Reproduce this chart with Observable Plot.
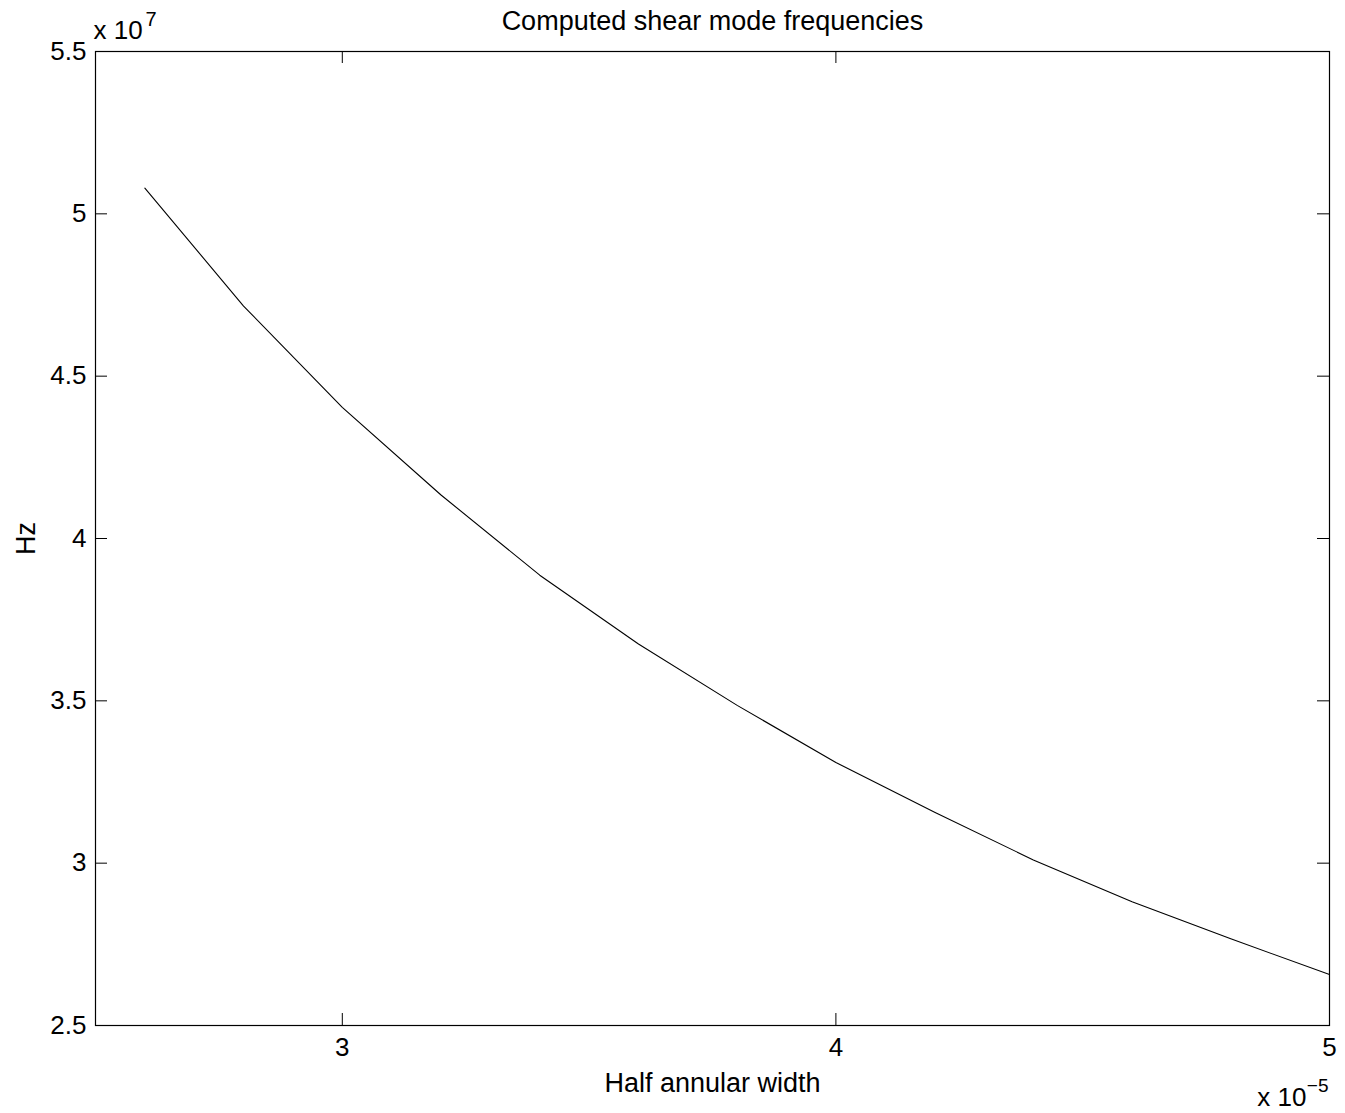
<!DOCTYPE html>
<html>
<head>
<meta charset="utf-8">
<script src="https://cdn.jsdelivr.net/npm/d3@7"></script>
<script src="https://cdn.jsdelivr.net/npm/@observablehq/plot@0.6"></script>
<style>
  html, body { margin: 0; padding: 0; background: #fff; }
  #chart svg { display: block; }
</style>
</head>
<body>
<div id="chart"></div>
<script>
// Half annular width (x 10^-5)
const halfWidth = [2.6, 2.8, 3.0, 3.2, 3.4, 3.6, 3.8, 4.0, 4.2, 4.4, 4.6, 4.8, 5.0];
// Frequency (Hz, x 10^7)
const freqHz = [5.079, 4.716, 4.404, 4.134, 3.887, 3.675, 3.486, 3.310, 3.157, 3.010, 2.881, 2.767, 2.657];

const xTicks = [3, 4, 5];
const yTicks = [2.5, 3, 3.5, 4, 4.5, 5, 5.5];
const titleText = "Computed shear mode frequencies";
const xLabel = "Half annular width";
const yLabel = "Hz";

const W = 1345, H = 1113;
const mL = 95, mR = 16, mT = 51, mB = 88;
const innerW = W - mL - mR, innerH = H - mT - mB;
const tickLen = 12;
const fs = 26;
const fsLabel = 27;

const data = halfWidth.map((x, i) => ({x, y: freqHz[i]}));

const chart = Plot.plot({
  width: W,
  height: H,
  marginLeft: mL, marginRight: mR, marginTop: mT, marginBottom: mB,
  style: {fontFamily: "'Liberation Sans', Arial, Helvetica, sans-serif", fontSize: fs + "px", color: "#000", background: "#fff"},
  x: {domain: [2.5, 5], axis: null},
  y: {domain: [2.5, 5.5], axis: null},
  marks: [
    Plot.frame({stroke: "#000", strokeWidth: 1.2}),
    // inward ticks on all four sides
    Plot.tickX(xTicks, {x: d => d, stroke: "#000", strokeWidth: 1, insetTop: innerH - tickLen}),
    Plot.tickX(xTicks, {x: d => d, stroke: "#000", strokeWidth: 1, insetBottom: innerH - tickLen}),
    Plot.tickY(yTicks, {y: d => d, stroke: "#000", strokeWidth: 1, insetRight: innerW - tickLen}),
    Plot.tickY(yTicks, {y: d => d, stroke: "#000", strokeWidth: 1, insetLeft: innerW - tickLen}),
    // tick labels
    Plot.axisX(xTicks, {anchor: "bottom", tickSize: 0, tickPadding: 12, fontSize: fs, tickFormat: d => String(d), label: null}),
    Plot.axisY(yTicks, {anchor: "left", tickSize: 0, tickPadding: 9, fontSize: fs, tickFormat: d => String(d), label: null}),
    // data line
    Plot.line(data, {x: "x", y: "y", stroke: "#000", strokeWidth: 1.1}),
    // title and axis labels
    Plot.text([titleText], {text: d => d, frameAnchor: "top", textAnchor: "middle", dy: -30, fontSize: fsLabel, lineAnchor: "middle"}),
    Plot.text([xLabel], {text: d => d, frameAnchor: "bottom", textAnchor: "middle", dy: 58, fontSize: fsLabel, lineAnchor: "middle"}),
    Plot.text([yLabel], {text: d => d, frameAnchor: "left", textAnchor: "middle", dx: -69, rotate: -90, fontSize: fsLabel, lineAnchor: "middle"}),
    // exponent labels
    Plot.text(["x 10"], {text: d => d, frameAnchor: "top-left", dx: -2, dy: -13, fontSize: fs, textAnchor: "start", lineAnchor: "bottom"}),
    Plot.text(["7"], {text: d => d, frameAnchor: "top-left", dx: 50, dy: -26, fontSize: 20, textAnchor: "start", lineAnchor: "bottom"}),
    Plot.text(["x 10"], {text: d => d, frameAnchor: "bottom-right", dx: -23, dy: 80, fontSize: fs, textAnchor: "end", lineAnchor: "bottom"}),
    Plot.text(["\u22125"], {text: d => d, frameAnchor: "bottom-right", dx: -1, dy: 66, fontSize: 19, textAnchor: "end", lineAnchor: "bottom"})
  ]
});
document.getElementById("chart").appendChild(chart);
</script>
</body>
</html>
